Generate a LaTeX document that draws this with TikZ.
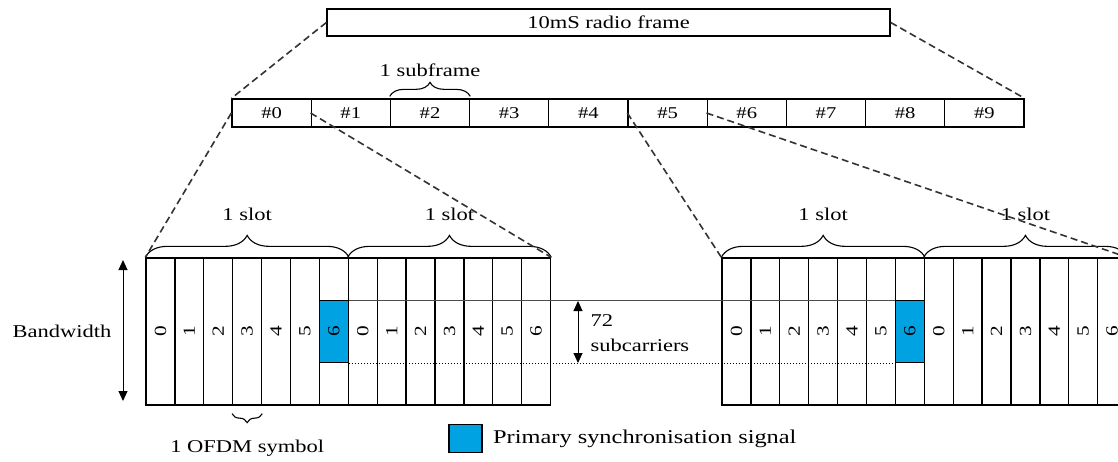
\documentclass[tikz,border=0pt]{standalone}
\usepackage{fontspec}
\setmainfont{Liberation Serif}[FakeStretch=1.25]
\usepackage{xcolor}
\usetikzlibrary{positioning,decorations.pathreplacing,arrows.meta}
\definecolor{pssblue}{RGB}{0,162,226}

\begin{document}
\begin{tikzpicture}[x=1pt, y=-1pt,
    font=\fontsize{18}{20}\selectfont,
    box/.style={rectangle, draw, line width=1.3pt, inner sep=0pt},
    sf/.style={box, minimum width=79.2pt, minimum height=28pt, font=\fontsize{16.5}{18}\selectfont},
    sym/.style={box, minimum width=28.9pt, minimum height=147pt},
    pss/.style={box, fill=pssblue, minimum width=28.9pt, minimum height=62pt},
    dig/.style={rotate=90, font=\fontsize{17}{19}\selectfont},
    zoom/.style={dash pattern=on 7pt off 4pt, line width=1.6pt, black!80},
    brc/.style={decorate, decoration={brace, amplitude=#1}, line width=1.1pt},
    dbl/.style={{Triangle[length=10pt,width=9pt]}-{Triangle[length=10pt,width=9pt]}, line width=1pt}]
    \useasboundingbox (0,0) rectangle (1118,462);

    % radio frame and subframes
    \node[box, minimum width=563pt, minimum height=27pt] (frame) at (608.5,22.5) {10mS radio frame};
    \foreach \i in {0,...,9}
        \node[sf] (sf\i) at ({271.6+79.2*\i},113) {\#\i};
    \draw[brc=14pt] ([yshift=2pt]sf2.north west) -- ([yshift=2pt]sf2.north east)
        node[midway, above=16pt] (subframe) {1 subframe};

    % OFDM symbols of two slots
    \foreach \i in {0,...,13} {
        \node[sym] (L\i) at ({160.45+28.9*\i},331.5) {};
        \node[sym] (R\i) at ({736.45+28.9*\i},331.5) {};
    }
    \node[pss] (pssL) at (L6) {};
    \node[pss] (pssR) at (R6) {};
    \foreach \i [evaluate=\i as \d using {int(mod(\i,7))}] in {0,...,13} {
        \node[dig] (Ld\i) at (L\i) {\d};
        \node[dig] (Rd\i) at (R\i) {\d};
    }
    \draw[line width=0.6pt, black!70] (pssL.north east) -- (pssR.north west);
    \draw[dotted, line width=1pt] (pssL.south east) -- (pssR.south west);

    \draw[brc=22pt] (L0.north west) -- (L6.north east) node[midway, above=33pt] (slotL1) {1 slot};
    \draw[brc=22pt] (L7.north west) -- (L13.north east) node[midway, above=33pt] (slotL2) {1 slot};
    \draw[brc=22pt] (R0.north west) -- (R6.north east) node[midway, above=33pt] (slotR1) {1 slot};
    \draw[brc=22pt] (R7.north west) -- (R13.north east) node[midway, above=33pt] (slotR2) {1 slot};
    \draw[brc=9pt] ([yshift=-8pt]L3.south east) -- ([yshift=-8pt]L3.south west)
        node[midway, below=22pt] (ofdm) {1 OFDM symbol};

    % zoom lines
    \draw[zoom] (frame.west) -- (sf0.north west);
    \draw[zoom] (frame.east) -- (sf9.north east);
    \draw[zoom] (sf0.west) -- (L0.north west);
    \draw[zoom] (sf1.west) -- (L13.north east);
    \draw[zoom] (sf5.west) -- (R0.north west);
    \draw[zoom] (sf6.west) -- (R13.north east);

    % bandwidth and subcarriers
    \coordinate (bwtop) at (123,260);
    \coordinate (bwbot) at (123,401);
    \draw[dbl] (bwtop) -- (bwbot);
    \node (bandwidth) at (62,331) {Bandwidth};
    \coordinate (sctop) at (578,301);
    \coordinate (scbot) at (578,363);
    \draw[dbl] (sctop) -- (scbot);
    \node[anchor=west, align=left, font=\fontsize{18}{25}\selectfont] (subcarriers) at (587,333) {72\\subcarriers};

    % legend
    \node[box, fill=pssblue, minimum width=33pt, minimum height=28pt] (legend) at (465.5,438.5) {};
    \node[right=7pt of legend, font=\fontsize{19.5}{22}\selectfont] (legendtext) {Primary synchronisation signal};
\end{tikzpicture}
\end{document}
